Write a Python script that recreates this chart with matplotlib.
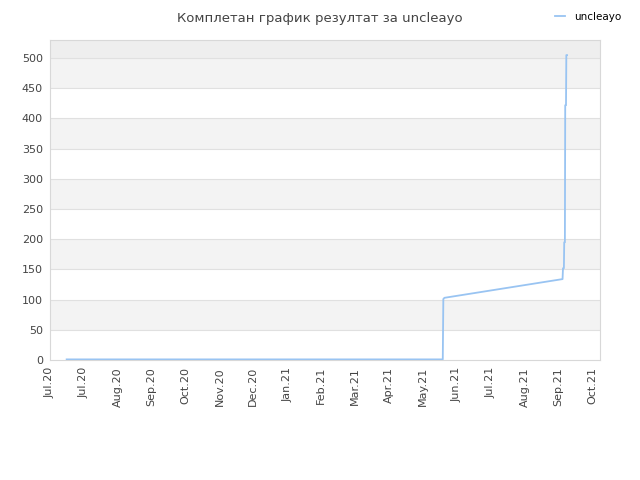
import numpy as np
import matplotlib.pyplot as plt

# days since 2020-07-01 and score
days = [15, 120, 240, 353.5, 354, 355, 461.3, 461.7, 462.5, 462.8, 463.4, 463.7, 464.4, 464.7, 465.3]
score = [1, 1, 1, 1, 101, 103, 134, 152, 152, 195, 195, 422, 422, 505, 505]

tick_labels = ['Jul.20', 'Jul.20', 'Aug.20', 'Sep.20', 'Oct.20', 'Nov.20', 'Dec.20', 'Jan.21',
               'Feb.21', 'Mar.21', 'Apr.21', 'May.21', 'Jun.21', 'Jul.21', 'Aug.21', 'Sep.21', 'Oct.21']
tick_pos = np.arange(len(tick_labels)) * 30.5

fig = plt.figure(figsize=(6.4, 4.8), dpi=100)
ax = fig.add_axes([50/640, 120/480, 550/640, 320/480])

# alternating bands
for i, lo in enumerate(range(0, 550, 50)):
    if lo >= 500:
        c = '#eeeeee'
    elif i % 2 == 1:
        c = '#f3f3f3'
    else:
        c = 'white'
    ax.axhspan(lo, lo + 50, color=c, zorder=0, lw=0)
for yv in range(50, 550, 50):
    ax.axhline(yv, color='#e0e0e0', lw=0.8, zorder=1)

ax.plot(days, score, color='#99c4f2', lw=1.3, label='uncleayo', zorder=3)

ax.set_xlim(0, 495)
ax.set_ylim(0, 530)
ax.set_yticks(range(0, 550, 50))
ax.set_xticks(tick_pos)
ax.set_xticklabels(tick_labels, rotation=90)
ax.tick_params(colors='#444444', labelsize=8, length=0, pad=5)
for s in ax.spines.values():
    s.set_color('#d8d8d8')

fig.text(0.5, 0.975, 'Комплетан график резултат за uncleayo', ha='center', va='top',
         fontsize=9.5, color='#444444')
fig.legend(loc='upper right', bbox_to_anchor=(0.985, 0.995), frameon=False,
           fontsize=7.5, handlelength=1.0, handletextpad=0.8)

fig.savefig('out.png')
